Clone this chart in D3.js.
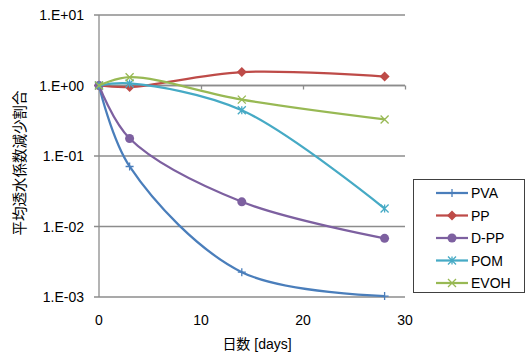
<!DOCTYPE html>
<html><head><meta charset="utf-8">
<script src="https://cdn.jsdelivr.net/npm/d3@7"></script>
<style>body{margin:0;background:#fff}svg text{font-family:"Liberation Sans",Arial,sans-serif;fill:#000}</style>
</head><body><svg id="c" width="526" height="354"></svg>
<script>
const days = [0, 3, 14, 28];
const seriesNames = ["PVA", "PP", "D-PP", "POM", "EVOH"];
const PVA  = [1, 0.071, 0.00225, 0.00103];
const PP   = [1, 0.95, 1.55, 1.34];
const DPP  = [1, 0.177, 0.0224, 0.0068];
const POM  = [1, 1.07, 0.446, 0.018];
const EVOH = [1, 1.31, 0.63, 0.33];
const yTicks = [1e-3, 1e-2, 1e-1, 1e0, 1e1];
const yTickLabels = ["1.E-03", "1.E-02", "1.E-01", "1.E+00", "1.E+01"];
const xTicks = [0, 10, 20, 30];
const colors = ["#4A7EBB", "#BE4B48", "#7D60A0", "#46AAC5", "#98B954"];
const markers = ["plus", "diamond", "circle", "star", "cross"];
const allValues = [PVA, PP, DPP, POM, EVOH];

const svg = d3.select("#c");
const x = d3.scaleLinear().domain([0, 30]).range([99, 405]);
const y = d3.scaleLog().domain([1e-3, 1e1]).range([297, 15]);

// gridlines
svg.append("g").selectAll("line").data(yTicks).join("line")
  .attr("x1", 94).attr("x2", 405).attr("y1", d => y(d)).attr("y2", d => y(d))
  .attr("stroke", "#8c8c8c").attr("stroke-width", 1.3);
// y axis line
svg.append("line").attr("x1", 99).attr("x2", 99).attr("y1", 15).attr("y2", 297)
  .attr("stroke", "#8c8c8c").attr("stroke-width", 1.3);
// y labels
svg.append("g").selectAll("text").data(yTicks).join("text")
  .attr("x", 84).attr("y", d => y(d) + 5).attr("text-anchor", "end")
  .attr("font-size", 14).text((d, i) => yTickLabels[i]);
// x axis at 1
const xAxis = d3.axisBottom(x).tickValues(xTicks).tickSize(4).tickFormat("");
const gx = svg.append("g").attr("transform", `translate(0,${y(1)})`).call(xAxis);
gx.selectAll("path,line").attr("stroke", "#8c8c8c").attr("stroke-width", 1.3);
gx.select("path").attr("d", `M99,0H405`);
// x labels at bottom
svg.append("g").selectAll("text").data(xTicks).join("text")
  .attr("x", d => x(d)).attr("y", 325).attr("text-anchor", "middle")
  .attr("font-size", 14).text(d => d);

// titles
svg.append("text").attr("x", 257).attr("y", 349).attr("text-anchor", "middle")
  .attr("font-size", 14)
  .html('<tspan font-family="Noto Sans CJK JP">日数</tspan> [days]');
svg.append("text").attr("transform", "translate(25,163) rotate(-90)")
  .attr("text-anchor", "middle").attr("font-size", 14.5)
  .style("font-family", "Noto Sans CJK JP").text("平均透水係数減少割合");

const line = d3.line().x(d => x(d[0])).y(d => y(d[1])).curve(d3.curveCatmullRom.alpha(0.5));

function drawMarker(g, type, cx, cy, color) {
  const s = 4;
  if (type === "plus") {
    g.append("path").attr("d", `M${cx-s},${cy}H${cx+s}M${cx},${cy-s}V${cy+s}`)
      .attr("stroke", color).attr("stroke-width", 1.3).attr("fill", "none");
  } else if (type === "diamond") {
    g.append("path").attr("d", `M${cx},${cy-5}L${cx+5},${cy}L${cx},${cy+5}L${cx-5},${cy}Z`).attr("fill", color);
  } else if (type === "circle") {
    g.append("circle").attr("cx", cx).attr("cy", cy).attr("r", 4.5).attr("fill", color);
  } else if (type === "star") {
    g.append("path").attr("d", `M${cx-s},${cy-s}L${cx+s},${cy+s}M${cx-s},${cy+s}L${cx+s},${cy-s}M${cx},${cy-s}V${cy+s}`)
      .attr("stroke", color).attr("stroke-width", 1.3).attr("fill", "none");
  } else if (type === "cross") {
    g.append("path").attr("d", `M${cx-s},${cy-s}L${cx+s},${cy+s}M${cx-s},${cy+s}L${cx+s},${cy-s}`)
      .attr("stroke", color).attr("stroke-width", 1.3).attr("fill", "none");
  }
}

allValues.forEach((vals, i) => {
  const pts = days.map((d, j) => [d, vals[j]]);
  const g = svg.append("g");
  g.append("path").attr("d", line(pts)).attr("fill", "none")
    .attr("stroke", colors[i]).attr("stroke-width", 2.25);
  pts.forEach(p => drawMarker(g, markers[i], x(p[0]), y(p[1]), colors[i]));
});

// legend
const lg = svg.append("g");
lg.append("rect").attr("x", 413.5).attr("y", 179.5).attr("width", 111).attr("height", 113)
  .attr("fill", "#fff").attr("stroke", "#404040").attr("stroke-width", 1);
seriesNames.forEach((n, i) => {
  const ly = 193 + i * 22.5;
  lg.append("line").attr("x1", 436).attr("x2", 468).attr("y1", ly).attr("y2", ly)
    .attr("stroke", colors[i]).attr("stroke-width", 2.25);
  drawMarker(lg, markers[i], 452, ly, colors[i]);
  lg.append("text").attr("x", 471).attr("y", ly + 5).attr("font-size", 14).text(n);
});
</script></body></html>
